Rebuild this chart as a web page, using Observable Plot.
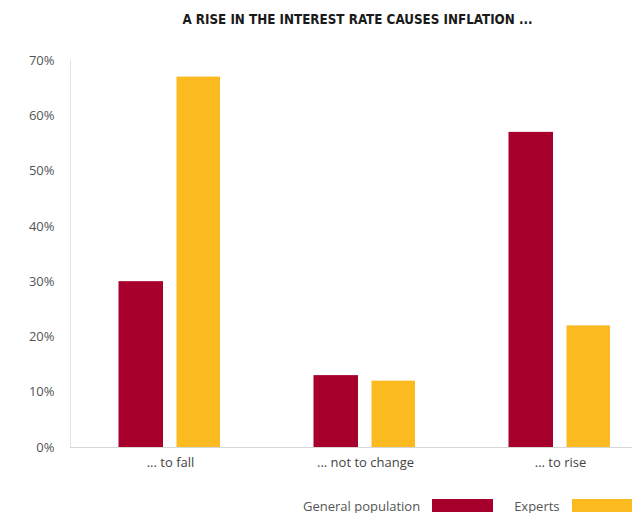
<!DOCTYPE html>
<html>
<head>
<meta charset="utf-8">
<script src="https://cdn.jsdelivr.net/npm/d3@7"></script>
<script src="https://cdn.jsdelivr.net/npm/@observablehq/plot@0.6"></script>
<style>
  html, body { margin: 0; padding: 0; background: #fff; overflow: hidden; width: 632px; height: 513px; }
  #title { height: 40px; line-height: 40px; padding-left: 83px; width: 549px; text-align: center;
    font-family: "Liberation Sans Narrow", "DejaVu Sans Condensed", sans-serif; font-weight: bold; font-size: 13.3px; color: #1a1a1a; white-space: nowrap; }
  #legend { display: flex; align-items: center; height: 13px; margin-top: 19px; padding-left: 303px;
    font-family: "Open Sans", sans-serif; font-size: 13px; color: #555; white-space: nowrap; }
  .sw { width: 61px; height: 13px; flex: none; }
</style>
</head>
<body>
<div id="title">A RISE IN THE INTEREST RATE CAUSES INFLATION ...</div>
<div id="chart"></div>
<div id="legend"></div>
<script>
const categories = ["... to fall", "... not to change", "... to rise"];
const seriesNames = ["General population", "Experts"];
const generalPopulation = [0.30, 0.13, 0.57];
const experts = [0.67, 0.12, 0.22];
const yTicks = [0, 0.1, 0.2, 0.3, 0.4, 0.5, 0.6, 0.7];
const colors = ["#A8002D", "#FBBA1F"];

const genData = categories.map((c, i) => ({category: c, series: seriesNames[0], value: generalPopulation[i]}));
const expData = categories.map((c, i) => ({category: c, series: seriesNames[1], value: experts[i]}));

const chart = Plot.plot({
  width: 632,
  height: 440,
  marginTop: 20,
  marginBottom: 33,
  marginLeft: 70,
  marginRight: 0,
  style: {fontFamily: "'Open Sans', sans-serif", fontSize: "13px", color: "#555", background: "#fff"},
  x: {domain: categories, paddingInner: 0.261, paddingOuter: 0.068, align: 1, label: null},
  y: {domain: [0, 0.7], label: null},
  color: {domain: seriesNames, range: colors},
  marks: [
    Plot.frame({anchor: "left", stroke: "#e2e2e2"}),
    Plot.barY(genData, {x: "category", y: "value", fill: "series", insetLeft: 20.5, insetRight: 79}),
    Plot.barY(expData, {x: "category", y: "value", fill: "series", insetLeft: 78.5, insetRight: 22}),
    Plot.ruleY([0], {stroke: "#d6d6d6"}),
    Plot.axisY({ticks: yTicks, tickFormat: d3.format(".0%"), tickSize: 0, tickPadding: 16, label: null, fill: "#555"}),
    Plot.axisX({tickSize: 0, tickPadding: 10, label: null, fill: "#444"})
  ]
});
document.getElementById("chart").appendChild(chart);

const legend = document.getElementById("legend");
seriesNames.forEach((name, i) => {
  const t = document.createElement("span");
  t.textContent = name;
  t.style.marginRight = "12px";
  const s = document.createElement("span");
  s.className = "sw";
  s.style.background = colors[i];
  s.style.marginRight = "21px";
  legend.appendChild(t);
  legend.appendChild(s);
});
</script>
</body>
</html>
